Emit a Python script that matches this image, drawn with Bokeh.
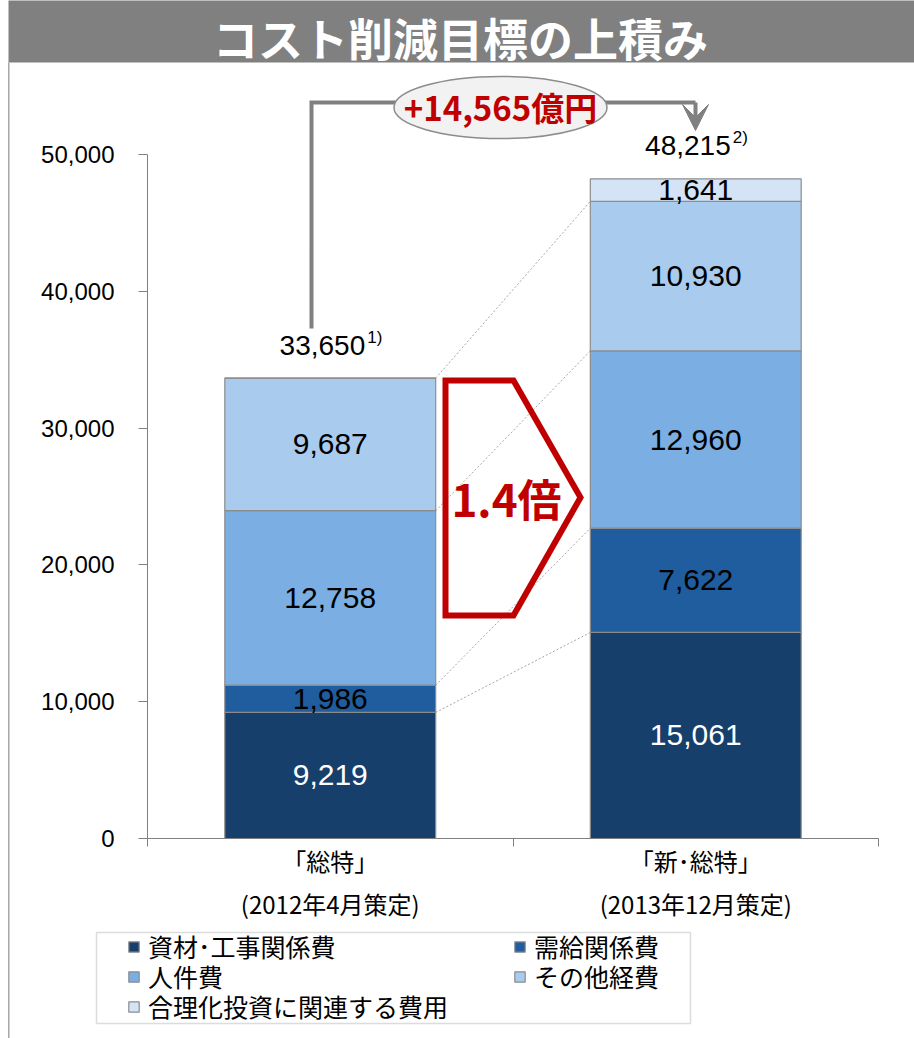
from bokeh.plotting import figure
from bokeh.models import (Range1d, FixedTicker, NumeralTickFormatter, Label, BoxAnnotation,
                          Legend, LegendItem, Arrow, VeeHead, ColumnDataSource, LinearAxis)
from bokeh.core.properties import value
from bokeh.embed import file_html
from bokeh.resources import INLINE

# ---------------- data ----------------
title_text = "コスト削減目標の上積み"
categories = ["「総特」", "「新･総特」"]
category_dates = ["(2012年4月策定)", "(2013年12月策定)"]
series_names = ["資材･工事関係費", "需給関係費", "人件費", "その他経費", "合理化投資に関連する費用"]
shizai = [9219, 15061]
jukyu = [1986, 7622]
jinken = [12758, 12960]
sonota = [9687, 10930]
gorika = [0, 1641]
total_labels = ["33,650", "48,215"]
total_notes = ["1)", "2)"]
increase_label = "+14,565億円"
ratio_label = "1.4倍"
y_ticks = [0, 10000, 20000, 30000, 40000, 50000]

# ---------------- style ----------------
colors = ["#173F6B", "#1F5D9E", "#7BAFE3", "#A9CBEE", "#D4E4F6"]
label_colors = ["white", "black", "black", "black", "black"]
GRAY = "#808080"
RED = "#C00000"
CJK = "Noto Sans CJK JP"
LAT = "Liberation Sans"

W, H = 914, 1038
FL, FR, FB = 147, 878, 838          # pixel positions of x=0, x=2, y=0
PX_PER = 684 / 50000.0


def dx(px):
    return (px - FL) / (FR - FL) * 2.0


def dy(py):
    return (FB - py) / PX_PER


p = figure(width=W, height=H, x_range=Range1d(dx(0), dx(W)), y_range=Range1d(dy(H), dy(0)),
           output_backend="svg", toolbar_location=None, title=None,
           x_axis_type=None, y_axis_type=None,
           min_border_left=0, min_border_right=0, min_border_top=0, min_border_bottom=0)
p.outline_line_color = None
p.grid.visible = False
p.background_fill_color = "white"
p.border_fill_color = "white"

# title bar and frame line
p.add_layout(BoxAnnotation(left=dx(8), right=dx(W + 20), top=dy(-20), bottom=dy(62),
                           fill_color=GRAY, fill_alpha=1, line_color=None))
p.add_layout(Label(x=dx(460), y=dy(37), text=title_text, text_align="center",
                   text_baseline="middle", text_font=CJK, text_font_style="bold",
                   text_font_size="45px", text_color="white"))
p.add_layout(BoxAnnotation(left=dx(7.5), right=dx(9), top=dy(62), bottom=dy(H + 20),
                           fill_color="#A6A6A6", fill_alpha=1, line_color=None))

# bars
xpos = [i + 0.5 for i in range(len(categories))]
bw = 0.577
stack_keys = ["shizai", "jukyu", "jinken", "sonota", "gorika"]
series = [shizai, jukyu, jinken, sonota, gorika]
src = ColumnDataSource(dict(x=xpos, shizai=shizai, jukyu=jukyu, jinken=jinken,
                            sonota=sonota, gorika=gorika))

cum = []
for j in range(len(categories)):
    c, acc = [], 0
    for s in series:
        acc += s[j]
        c.append(acc)
    cum.append(c)
p.segment(x0=[xpos[0] + bw / 2] * 4, y0=cum[0][:4], x1=[xpos[1] - bw / 2] * 4, y1=cum[1][:4],
          line_color="#A6A6A6", line_width=1, line_dash="2 2")

rs = p.vbar_stack(stack_keys, x="x", width=bw, source=src, fill_color=colors,
                  line_color="#8C8C8C", line_width=1.2)

# segment labels
lx, ly, lt, lc = [], [], [], []
for j in range(len(categories)):
    base = 0
    for k, s in enumerate(series):
        v = s[j]
        if v > 0:
            lx.append(xpos[j])
            ly.append(base + v / 2)
            lt.append(f"{v:,}")
            lc.append(label_colors[k])
        base += v
p.text(x=lx, y=ly, text=lt, text_color=lc, text_align="center", text_baseline="middle",
       text_font=value(LAT), text_font_size="30px")

# totals
totals = [cum[j][-1] for j in range(len(categories))]
p.text(x=xpos, y=totals, text=total_labels, text_align="right", text_baseline="middle",
       x_offset=35, y_offset=-33, text_font=value(LAT), text_font_size="28px", text_color="black")
p.text(x=xpos, y=totals, text=total_notes, text_align="left", text_baseline="middle",
       x_offset=37, y_offset=-41, text_font=value(LAT), text_font_size="17px", text_color="black")

# bracket with arrow
p.line(x=[dx(311), dx(311), dx(695)], y=[dy(328), dy(102), dy(102)],
       line_color=GRAY, line_width=4, line_join="miter")
p.add_layout(Arrow(end=VeeHead(size=26, fill_color=GRAY, line_color=GRAY),
                   x_start=dx(695), y_start=dy(102), x_end=dx(695), y_end=dy(130),
                   line_color=GRAY, line_width=4))
p.ellipse(x=[dx(500)], y=[dy(107)], width=[213], height=[62],
          width_units="screen", height_units="screen",
          fill_color="#F2F2F2", line_color="#8C8C8C", line_width=1.5)
p.add_layout(Label(x=dx(500), y=dy(106), text=increase_label, text_align="center",
                   text_baseline="middle", text_font=CJK, text_font_style="bold",
                   text_font_size="33px", text_color=RED))

# pentagon arrow
p.patch(x=[dx(445), dx(513), dx(580), dx(513), dx(445)],
        y=[dy(380), dy(380), dy(497), dy(615), dy(615)],
        fill_color=None, line_color=RED, line_width=6, line_join="miter")
p.add_layout(Label(x=dx(506), y=dy(497), text=ratio_label, text_align="center",
                   text_baseline="middle", text_font=CJK, text_font_style="bold",
                   text_font_size="44px", text_color=RED))

# axes (placed at the data origin)
yaxis = LinearAxis(fixed_location=0, ticker=FixedTicker(ticks=y_ticks),
                   formatter=NumeralTickFormatter(format="0,0"), bounds=(0, 50000),
                   axis_line_color=GRAY, major_tick_line_color=GRAY,
                   major_tick_out=9, major_tick_in=0, minor_tick_line_color=None,
                   major_label_standoff=24, major_label_text_font=LAT,
                   major_label_text_font_size="24px", major_label_text_color="black")
p.add_layout(yaxis, "left")

xaxis = LinearAxis(fixed_location=0, ticker=FixedTicker(ticks=xpos, minor_ticks=[0, 1, 2]),
                   major_label_overrides={x: f"{c}\n{d}" for x, c, d in
                                          zip(xpos, categories, category_dates)},
                   bounds=(0, 2), axis_line_color=GRAY, major_tick_line_color=None,
                   major_tick_out=0, major_tick_in=0,
                   minor_tick_line_color=GRAY, minor_tick_out=8, minor_tick_in=0,
                   major_label_standoff=-4, major_label_text_font=CJK,
                   major_label_text_font_size="24px", major_label_text_color="black",
                   major_label_text_line_height=1.25)
p.add_layout(xaxis, "below")

# legend: one Legend per row, two columns
legend_rows = [[0, 1], [2, 3], [4]]
row_offsets = [74, 44, 14]
for row, yoff in zip(legend_rows, row_offsets):
    lg = Legend(items=[LegendItem(label=value(series_names[i]), renderers=[rs[i]]) for i in row],
                orientation="horizontal", location=(127, yoff),
                glyph_width=13, glyph_height=13, label_standoff=8, label_width=360,
                spacing=5, padding=0, margin=0,
                label_text_font=CJK, label_text_font_size="25px", label_text_color="black",
                border_line_color=None, background_fill_alpha=0)
    p.add_layout(lg)
p.add_layout(BoxAnnotation(left=dx(96), right=dx(690), top=dy(932), bottom=dy(1023),
                           fill_alpha=0, line_color="#8C8C8C", line_width=1.5))

open("out.html", "w").write(file_html(p, INLINE))
